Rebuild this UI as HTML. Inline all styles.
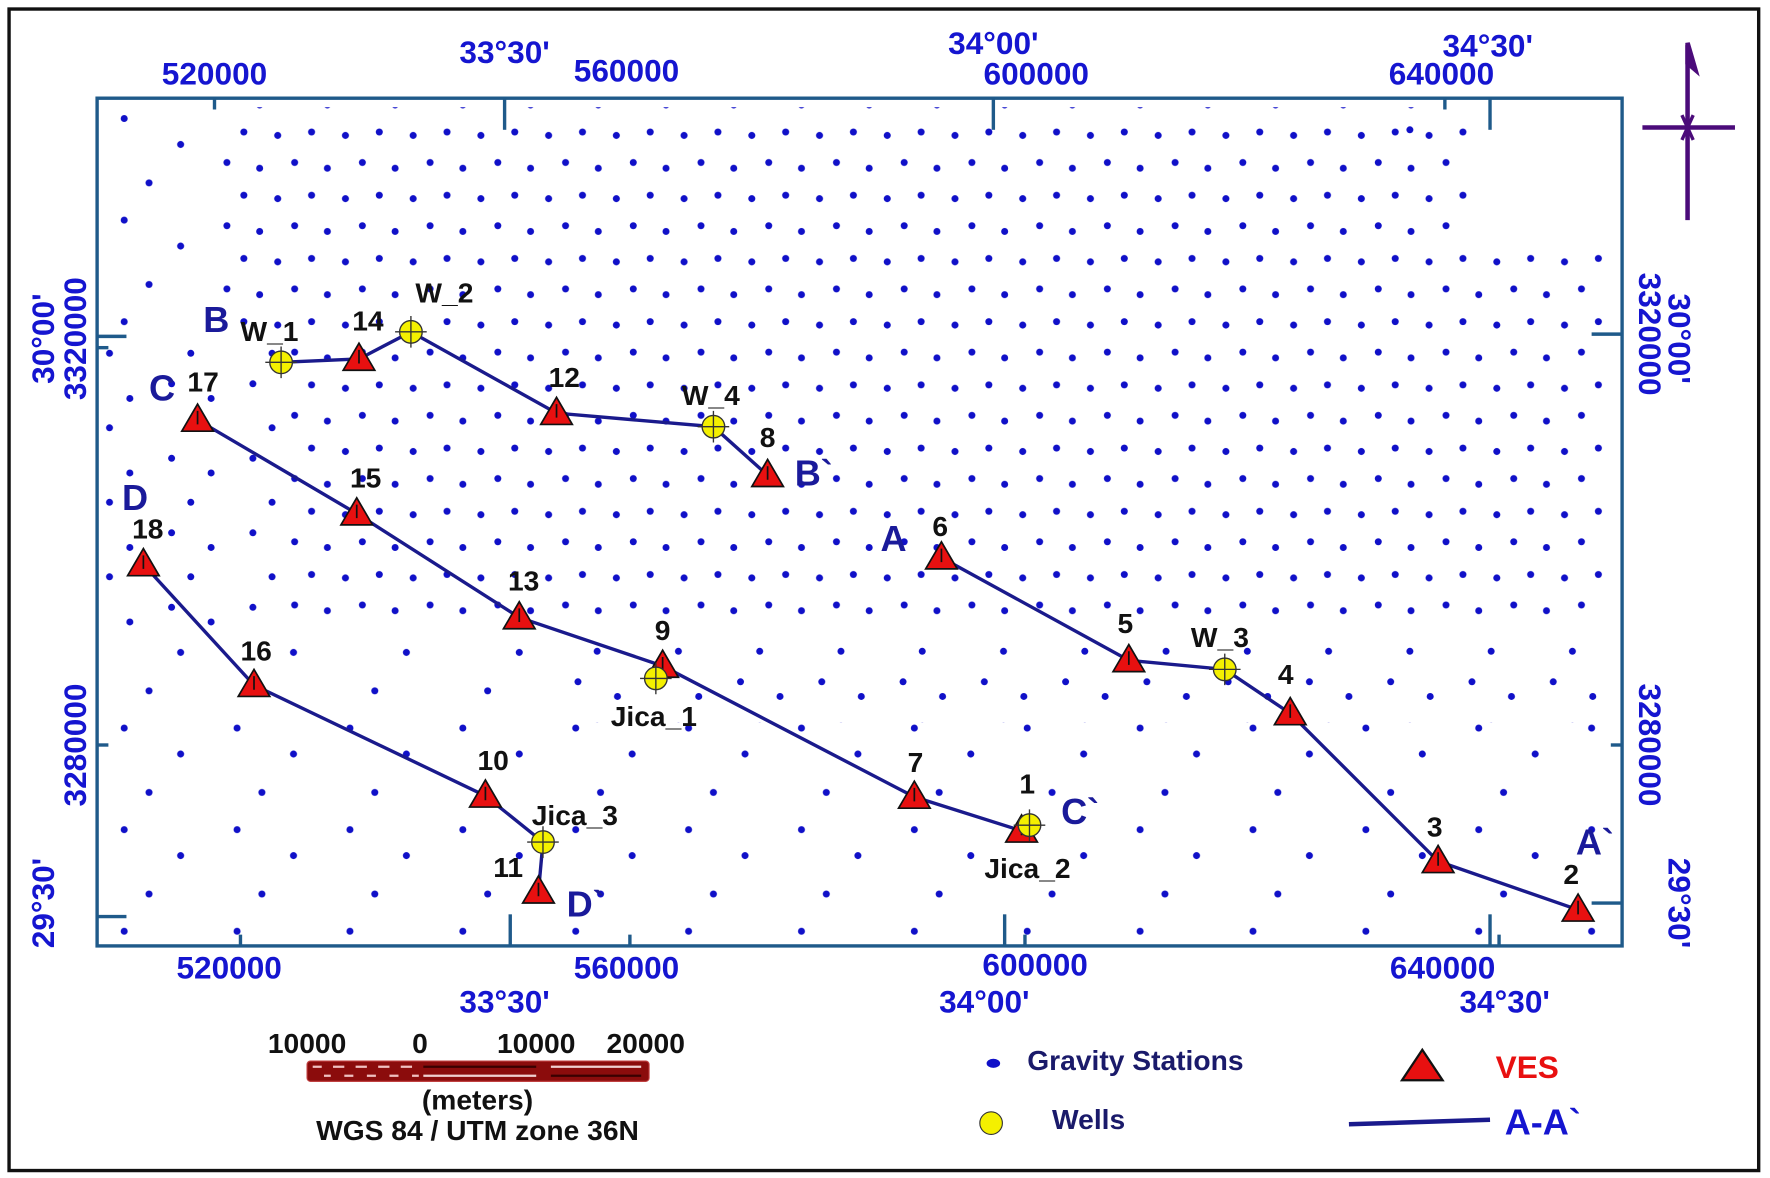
<!DOCTYPE html>
<html><head><meta charset="utf-8"><style>
html,body{margin:0;padding:0;background:#fff;}
svg{display:block}
text{font-family:"Liberation Sans",Arial,sans-serif;font-weight:bold}
.ax{fill:#1515d0;font-size:28px}
.lb{fill:#111;font-size:25px}
.sec{fill:#1a1a9a;font-size:32px}
</style></head><body>
<svg width="1770" height="1178" viewBox="0 0 1568 1043.6" xmlns="http://www.w3.org/2000/svg">
<defs>
<pattern id="pd" patternUnits="userSpaceOnUse" width="60" height="56">
<g fill="#1010c8"><circle cx="6" cy="8" r="3.1"/><circle cx="36" cy="5" r="3.1"/><circle cx="21" cy="32" r="3.1"/><circle cx="50" cy="37" r="3.1"/></g></pattern>
<pattern id="pm" patternUnits="userSpaceOnUse" width="72" height="66">
<g fill="#1010c8"><circle cx="8" cy="10" r="3.1"/><circle cx="43" cy="23" r="3.1"/><circle cx="25" cy="49" r="3.1"/></g></pattern>
<pattern id="ps" patternUnits="userSpaceOnUse" width="100" height="90">
<g fill="#1010c8"><circle cx="10" cy="15" r="3.1"/><circle cx="60" cy="38" r="3.1"/><circle cx="32" cy="72" r="3.1"/></g></pattern>
</defs>
<rect x="0" y="0" width="1568" height="1044" fill="#fff"/>
<rect x="8" y="8" width="1550" height="1029" fill="none" stroke="#111" stroke-width="3"/>
<!-- dots -->
<rect x="190" y="95" width="1110" height="205" fill="url(#pd)"/>
<rect x="250" y="300" width="1175" height="260" fill="url(#pd)"/>
<rect x="1300" y="220" width="125" height="80" fill="url(#pd)"/>
<rect x="1240" y="95" width="70" height="40" fill="url(#pm)"/>
<rect x="92" y="300" width="158" height="260" fill="url(#pm)"/>
<rect x="500" y="560" width="925" height="80" fill="url(#pm)"/>
<rect x="92" y="95" width="98" height="205" fill="url(#ps)"/>
<rect x="92" y="560" width="408" height="272" fill="url(#ps)"/>
<rect x="500" y="640" width="925" height="192" fill="url(#ps)"/>
<!-- frame -->
<rect x="86" y="87" width="1351" height="751" fill="none" stroke="#1f5a8a" stroke-width="3"/>
<g stroke="#1f5a8a" stroke-width="3">
<line x1="190" y1="87" x2="190" y2="97"/><line x1="447" y1="87" x2="447" y2="115"/>
<line x1="880" y1="87" x2="880" y2="115"/><line x1="1280" y1="87" x2="1280" y2="97"/><line x1="1320" y1="87" x2="1320" y2="115"/>
<line x1="213" y1="838" x2="213" y2="828"/><line x1="452" y1="838" x2="452" y2="810"/>
<line x1="558" y1="838" x2="558" y2="828"/><line x1="890" y1="838" x2="890" y2="810"/>
<line x1="908" y1="838" x2="908" y2="828"/><line x1="1328" y1="838" x2="1328" y2="828"/><line x1="1320" y1="838" x2="1320" y2="810"/>
<line x1="86" y1="298" x2="112" y2="298"/><line x1="86" y1="308" x2="96" y2="308"/>
<line x1="86" y1="660" x2="96" y2="660"/><line x1="86" y1="812" x2="112" y2="812"/>
<line x1="1437" y1="296" x2="1410" y2="296"/><line x1="1437" y1="660" x2="1427" y2="660"/><line x1="1437" y1="800" x2="1410" y2="800"/>
</g>
<!-- axis labels -->
<g class="ax" text-anchor="middle">
<text x="190" y="75">520000</text><text x="447" y="56">33°30'</text><text x="555" y="72">560000</text>
<text x="880" y="48">34°00'</text><text x="918" y="75">600000</text><text x="1318" y="50">34°30'</text><text x="1277" y="75">640000</text>
<text x="203" y="867">520000</text><text x="447" y="897">33°30'</text><text x="555" y="867">560000</text>
<text x="872" y="897">34°00'</text><text x="917" y="864">600000</text><text x="1278" y="867">640000</text><text x="1333" y="897">34°30'</text>
<text transform="translate(48,300) rotate(-90)">30°00'</text>
<text transform="translate(76,300) rotate(-90)">3320000</text>
<text transform="translate(76,660) rotate(-90)">3280000</text>
<text transform="translate(48,800) rotate(-90)">29°30'</text>
<text transform="translate(1452,296) rotate(90)">3320000</text>
<text transform="translate(1478,300) rotate(90)">30°00'</text>
<text transform="translate(1452,660) rotate(90)">3280000</text>
<text transform="translate(1478,800) rotate(90)">29°30'</text>
</g>
<!-- section lines -->
<g fill="none" stroke="#1a1a8c" stroke-width="3">
<polyline points="249,321 318,318 364,294 493,366 632,378 680,421"/>
<polyline points="175,372 316,455 460,547 587,590 810,706 905,736"/>
<polyline points="127,500 225,607 430,705 481,746 477,790"/>
<polyline points="834,494 1000,585 1085,593 1143,632 1274,763 1398,806"/>
</g>
<!-- VES -->
<g fill="#e81010" stroke="#111" stroke-width="1.5">
<path d="M161 382L175 358L189 382Z"/><path d="M304 328L318 304L332 328Z"/><path d="M479 376L493 352L507 376Z"/>
<path d="M666 431L680 407L694 431Z"/><path d="M302 465L316 441L330 465Z"/><path d="M446 557L460 533L474 557Z"/>
<path d="M573 600L587 576L601 600Z"/><path d="M796 716L810 692L824 716Z"/><path d="M891 746L905 722L919 746Z"/>
<path d="M113 510L127 486L141 510Z"/><path d="M211 617L225 593L239 617Z"/><path d="M416 715L430 691L444 715Z"/>
<path d="M463 800L477 776L491 800Z"/><path d="M820 504L834 480L848 504Z"/><path d="M986 595L1000 571L1014 595Z"/>
<path d="M1129 642L1143 618L1157 642Z"/><path d="M1260 773L1274 749L1288 773Z"/><path d="M1384 816L1398 792L1412 816Z"/>
</g>
<path stroke="#111" stroke-width="1.5" d="M175 364V376M318 310V322M493 358V370M680 413V425M316 447V459M460 539V551M587 582V594M810 698V710M905 728V740M127 492V504M225 599V611M430 697V709M477 782V794M834 486V498M1000 577V589M1143 624V636M1274 755V767M1398 798V810"/>
<!-- wells -->
<g fill="#f4f000" stroke="#333" stroke-width="1.2">
<circle cx="249" cy="321" r="10"/><circle cx="364" cy="294" r="10"/><circle cx="632" cy="378" r="10"/>
<circle cx="581" cy="601" r="10"/><circle cx="912" cy="731" r="10"/><circle cx="481" cy="746" r="10"/><circle cx="1085" cy="593" r="10"/>
</g>
<path stroke="#333" stroke-width="1.2" d="M249 307V335M235 321H263M364 280V308M350 294H378M632 364V392M618 378H646M581 587V615M567 601H595M912 717V745M898 731H926M481 732V760M467 746H495M1085 579V607M1071 593H1099"/>
<!-- labels -->
<g class="lb">
<text x="213" y="302">W_1</text><text x="312" y="293">14</text><text x="368" y="268">W_2</text>
<text x="486" y="343">12</text><text x="604" y="359">W_4</text><text x="673" y="396">8</text>
<text x="166" y="347">17</text><text x="310" y="432">15</text><text x="117" y="477">18</text>
<text x="450" y="523">13</text><text x="580" y="567">9</text><text x="213" y="585">16</text>
<text x="541" y="643">Jica_1</text><text x="423" y="682">10</text><text x="471" y="731">Jica_3</text>
<text x="437" y="777">11</text><text x="804" y="684">7</text><text x="903" y="703">1</text>
<text x="872" y="778">Jica_2</text><text x="826" y="475">6</text><text x="990" y="561">5</text>
<text x="1055" y="573">W_3</text><text x="1132" y="606">4</text><text x="1264" y="741">3</text><text x="1385" y="783">2</text>
</g>
<g class="sec">
<text x="180" y="294">B</text><text x="704" y="430">B`</text><text x="132" y="355">C</text>
<text x="108" y="452">D</text><text x="502" y="812">D`</text><text x="940" y="730">C`</text>
<text x="780" y="488">A</text><text x="1396" y="757">A`</text>
</g>
<!-- north arrow -->
<g stroke="#4b0b7a" stroke-width="4" fill="#4b0b7a">
<line x1="1495" y1="40" x2="1495" y2="195"/><line x1="1455" y1="113" x2="1537" y2="113"/>
<path d="M1495 38 L1502 62 L1495 56Z"/>
<path d="M1490 102 L1500 124 M1500 102 L1490 124" stroke-width="3"/>
</g>
<!-- legend -->
<ellipse cx="880" cy="942" rx="6" ry="4" fill="#1010c8"/>
<text x="910" y="948" class="lb" style="fill:#1a1a6a">Gravity Stations</text>
<circle cx="878" cy="995" r="10" fill="#f4f000" stroke="#333"/>
<text x="932" y="1000" class="lb" style="fill:#1a1a6a">Wells</text>
<path d="M1242 957 L1260 930 L1278 957Z" fill="#e81010" stroke="#111" stroke-width="2"/>
<text x="1325" y="955" style="fill:#e81010;font-size:28px">VES</text>
<line x1="1195" y1="996" x2="1320" y2="992" stroke="#1a1a8c" stroke-width="4"/>
<text x="1333" y="1005" style="fill:#1515d0;font-size:32px">A-A`</text>
<!-- scale bar -->
<g class="lb" style="font-size:25px;fill:#111" text-anchor="middle">
<text x="272" y="933">10000</text><text x="372" y="933">0</text><text x="475" y="933">10000</text><text x="572" y="933">20000</text>
<text x="423" y="983">(meters)</text><text x="423" y="1010">WGS 84 / UTM zone 36N</text>
</g>
<rect x="272" y="940" width="303" height="18" rx="3" fill="#8b0c0c" stroke="#c04040"/>
<g stroke-width="2">
<path d="M277 945H285M295 945H305M315 945H325M335 945H345M355 945H365" stroke="#f0c0c0"/>
<path d="M287 953H293M305 953H313M325 953H333M345 953H353M365 953H371" stroke="#f0c0c0"/>
<path d="M375 953H475M488 945H568" stroke="#f0d0d0"/>
<path d="M375 945H475M488 953H568" stroke="#3a0000"/>
</g>
</svg>
</body></html>
